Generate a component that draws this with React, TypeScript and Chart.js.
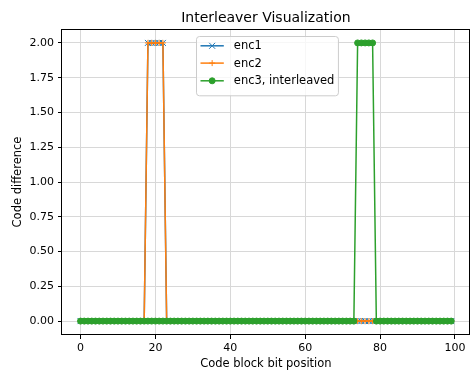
import React, { useEffect, useRef } from 'react';
import { Chart, registerables } from 'chart.js';

Chart.register(...registerables);

// ---- data ----
const bitPositions = [
  0, 1, 2, 3, 4, 5, 6, 7, 8, 9,
  10, 11, 12, 13, 14, 15, 16, 17, 18, 19,
  20, 21, 22, 23, 24, 25, 26, 27, 28, 29,
  30, 31, 32, 33, 34, 35, 36, 37, 38, 39,
  40, 41, 42, 43, 44, 45, 46, 47, 48, 49,
  50, 51, 52, 53, 54, 55, 56, 57, 58, 59,
  60, 61, 62, 63, 64, 65, 66, 67, 68, 69,
  70, 71, 72, 73, 74, 75, 76, 77, 78, 79,
  80, 81, 82, 83, 84, 85, 86, 87, 88, 89,
  90, 91, 92, 93, 94, 95, 96, 97, 98, 99,
];

const enc1 = [
  0, 0, 0, 0, 0, 0, 0, 0, 0, 0,
  0, 0, 0, 0, 0, 0, 0, 0, 2, 2,
  2, 2, 2, 0, 0, 0, 0, 0, 0, 0,
  0, 0, 0, 0, 0, 0, 0, 0, 0, 0,
  0, 0, 0, 0, 0, 0, 0, 0, 0, 0,
  0, 0, 0, 0, 0, 0, 0, 0, 0, 0,
  0, 0, 0, 0, 0, 0, 0, 0, 0, 0,
  0, 0, 0, 0, 0, 0, 0, 0, 0, 0,
  0, 0, 0, 0, 0, 0, 0, 0, 0, 0,
  0, 0, 0, 0, 0, 0, 0, 0, 0, 0,
];

const enc2 = [
  0, 0, 0, 0, 0, 0, 0, 0, 0, 0,
  0, 0, 0, 0, 0, 0, 0, 0, 2, 2,
  2, 2, 2, 0, 0, 0, 0, 0, 0, 0,
  0, 0, 0, 0, 0, 0, 0, 0, 0, 0,
  0, 0, 0, 0, 0, 0, 0, 0, 0, 0,
  0, 0, 0, 0, 0, 0, 0, 0, 0, 0,
  0, 0, 0, 0, 0, 0, 0, 0, 0, 0,
  0, 0, 0, 0, 0, 0, 0, 0, 0, 0,
  0, 0, 0, 0, 0, 0, 0, 0, 0, 0,
  0, 0, 0, 0, 0, 0, 0, 0, 0, 0,
];

const enc3 = [
  0, 0, 0, 0, 0, 0, 0, 0, 0, 0,
  0, 0, 0, 0, 0, 0, 0, 0, 0, 0,
  0, 0, 0, 0, 0, 0, 0, 0, 0, 0,
  0, 0, 0, 0, 0, 0, 0, 0, 0, 0,
  0, 0, 0, 0, 0, 0, 0, 0, 0, 0,
  0, 0, 0, 0, 0, 0, 0, 0, 0, 0,
  0, 0, 0, 0, 0, 0, 0, 0, 0, 0,
  0, 0, 0, 0, 2, 2, 2, 2, 2, 0,
  0, 0, 0, 0, 0, 0, 0, 0, 0, 0,
  0, 0, 0, 0, 0, 0, 0, 0, 0, 0,
];

const seriesLabels = ['enc1', 'enc2', 'enc3, interleaved'];
const xTickValues = [0, 20, 40, 60, 80, 100];
const yTickValues = [0, 0.25, 0.5, 0.75, 1, 1.25, 1.5, 1.75, 2];

const chartTitle = 'Interleaver Visualization';
const xAxisTitle = 'Code block bit position';
const yAxisTitle = 'Code difference';

// ---- styles ----
const COLORS = ['#1f77b4', '#ff7f0e', '#2ca02c'];
const MARKERS = ['crossRot', 'cross', 'circle'];
const FONT = "'DejaVu Sans', 'Liberation Sans', sans-serif";

function drawMarker(ctx: CanvasRenderingContext2D, style: string, x: number, y: number, color: string) {
  ctx.save();
  ctx.strokeStyle = color;
  ctx.fillStyle = color;
  ctx.lineWidth = 1;
  ctx.beginPath();
  if (style === 'crossRot') {
    const d = 3;
    ctx.moveTo(x - d, y - d);
    ctx.lineTo(x + d, y + d);
    ctx.moveTo(x - d, y + d);
    ctx.lineTo(x + d, y - d);
    ctx.stroke();
  } else if (style === 'cross') {
    const d = 3;
    ctx.moveTo(x - d, y);
    ctx.lineTo(x + d, y);
    ctx.moveTo(x, y - d);
    ctx.lineTo(x, y + d);
    ctx.stroke();
  } else {
    ctx.arc(x, y, 3, 0, Math.PI * 2);
    ctx.fill();
    ctx.stroke();
  }
  ctx.restore();
}

const framePlugin = {
  id: 'mplFrame',
  afterDatasetsDraw(chart: any) {
    const { ctx, chartArea } = chart;
    ctx.save();
    ctx.strokeStyle = '#000';
    ctx.lineWidth = 1;
    const l = Math.round(chartArea.left) - 0.5;
    const r = Math.round(chartArea.right) - 0.5;
    const t = Math.round(chartArea.top) + 0.5;
    const b = Math.round(chartArea.bottom) - 0.5;
    ctx.strokeRect(l, t, r - l, b - t);
    ctx.restore();
  },
};

const legendPlugin = {
  id: 'mplLegend',
  afterDraw(chart: any) {
    const { ctx, chartArea } = chart;
    const datasets = chart.data.datasets;
    ctx.save();
    ctx.font = `11.5px ${FONT}`;
    const textW = Math.max(...datasets.map((d: any) => ctx.measureText(d.label).width));
    const pad = 4;
    const handle = 23.3;
    const gap = 10;
    const w = pad + handle + gap + textW + pad;
    const h = 59.3;
    const cx = (chartArea.left + chartArea.right) / 2;
    const left = Math.round(cx - w / 2) + 1.5;
    const top = Math.round(chartArea.top + 6.7) + 0.5;
    ctx.beginPath();
    const rr = 3;
    ctx.moveTo(left + rr, top);
    ctx.lineTo(left + w - rr, top);
    ctx.quadraticCurveTo(left + w, top, left + w, top + rr);
    ctx.lineTo(left + w, top + h - rr);
    ctx.quadraticCurveTo(left + w, top + h, left + w - rr, top + h);
    ctx.lineTo(left + rr, top + h);
    ctx.quadraticCurveTo(left, top + h, left, top + h - rr);
    ctx.lineTo(left, top + rr);
    ctx.quadraticCurveTo(left, top, left + rr, top);
    ctx.closePath();
    ctx.fillStyle = 'rgba(255,255,255,0.8)';
    ctx.fill();
    ctx.strokeStyle = '#cccccc';
    ctx.lineWidth = 1;
    ctx.stroke();

    const rowOffsets = [9.3, 26.6, 44.3];
    datasets.forEach((d: any, i: number) => {
      const y = top + rowOffsets[i];
      const x0 = left + pad;
      ctx.beginPath();
      ctx.strokeStyle = d.borderColor;
      ctx.lineWidth = 1.5;
      ctx.moveTo(x0, y);
      ctx.lineTo(x0 + handle, y);
      ctx.stroke();
      drawMarker(ctx, d.pointStyle, x0 + handle / 2, y, d.borderColor);
      ctx.fillStyle = '#000';
      ctx.textAlign = 'left';
      ctx.textBaseline = 'middle';
      ctx.fillText(d.label, x0 + handle + gap, y + 0.5);
    });
    ctx.restore();
  },
};

export default function App() {
  const canvasRef = useRef<HTMLCanvasElement | null>(null);

  useEffect(() => {
    const canvas = canvasRef.current;
    if (!canvas) return;
    const series = [enc1, enc2, enc3];
    const chart = new Chart(canvas, {
      type: 'line',
      data: {
        datasets: series.map((vals, i) => ({
          label: seriesLabels[i],
          data: bitPositions.map((x, j) => ({ x, y: vals[j] })),
          order: series.length - i,
          borderColor: COLORS[i],
          backgroundColor: COLORS[i],
          borderWidth: 1.5,
          pointStyle: MARKERS[i] as any,
          pointRadius: i === 0 ? 4.24 : 3,
          pointBorderWidth: 1,
          pointBackgroundColor: COLORS[i],
          pointBorderColor: COLORS[i],
          tension: 0,
          fill: false,
        })),
      },
      options: {
        animation: false,
        responsive: false,
        devicePixelRatio: 1,
        layout: { padding: { left: 0, right: 4, top: 0, bottom: 0 } },
        plugins: {
          legend: { display: false },
          tooltip: { enabled: false },
          title: {
            display: true,
            text: chartTitle,
            fullSize: false,
            color: '#000',
            font: { family: FONT, size: 14, weight: 'normal' },
            padding: { top: 10.1, bottom: 2.1 },
          },
        },
        scales: {
          x: {
            type: 'linear',
            min: -4.95,
            max: 103.95,
            afterBuildTicks(scale: any) {
              scale.ticks = xTickValues.map((v) => ({ value: v }));
            },
            afterFit(scale: any) {
              scale.height = 42;
            },
            ticks: {
              color: '#000',
              font: { family: FONT, size: 11 },
              padding: 3,
              maxRotation: 0,
              autoSkip: false,
              callback: (v: any) => String(v),
            },
            grid: {
              color: '#d8d8d8',
              lineWidth: 1,
              drawTicks: true,
              tickLength: 4,
              tickColor: '#000',
              tickWidth: 1,
            },
            border: { display: false },
            title: {
              display: true,
              text: xAxisTitle,
              color: '#000',
              font: { family: FONT, size: 11.5 },
              padding: { top: 0, bottom: 6.4 },
            },
          },
          y: {
            type: 'linear',
            min: -0.1,
            max: 2.1,
            afterBuildTicks(scale: any) {
              scale.ticks = yTickValues.map((v) => ({ value: v }));
            },
            afterFit(scale: any) {
              scale.width = 62;
            },
            ticks: {
              color: '#000',
              font: { family: FONT, size: 11 },
              padding: 4,
              autoSkip: false,
              callback: (v: any) => Number(v).toFixed(2),
            },
            grid: {
              color: '#d8d8d8',
              lineWidth: 1,
              drawTicks: true,
              tickLength: 4,
              tickColor: '#000',
              tickWidth: 1,
            },
            border: { display: false },
            title: {
              display: true,
              text: yAxisTitle,
              color: '#000',
              font: { family: FONT, size: 11.5 },
              padding: { top: 11.1, bottom: 0 },
            },
          },
        },
      },
      plugins: [framePlugin, legendPlugin],
    });
    return () => chart.destroy();
  }, []);

  return (
    <div style={{ position: 'absolute', left: 0, top: 0, width: 475, height: 377, background: '#fff' }}>
      <canvas ref={canvasRef} width={475} height={377} style={{ display: 'block', width: 475, height: 377 }} />
    </div>
  );
}
